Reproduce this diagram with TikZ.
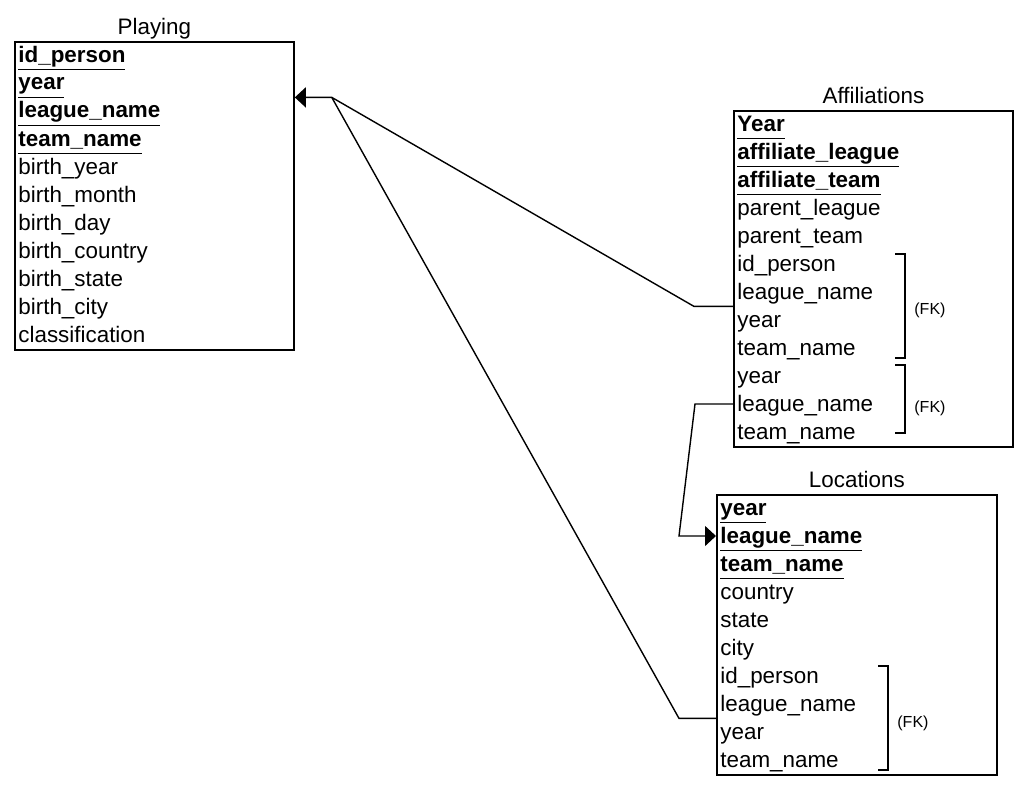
\documentclass[tikz,border=0pt]{standalone}
\usepackage{fontspec}
\setmainfont{Liberation Sans}
\usetikzlibrary{positioning, arrows.meta}
\newcommand{\pk}[1]{\underline{\textbf{#1}\vphantom{gy}}}

\begin{document}
\begin{tikzpicture}[
    x=0.5pt, y=-0.5pt,
    font=\fontsize{11.2}{13}\selectfont,
    table/.style={rectangle, draw, line width=0.9pt, anchor=north west, minimum width=139.5pt, inner sep=0},
    title/.style={inner sep=0, text height=8pt, text depth=2.4pt},
    field/.style={anchor=west, inner sep=0, minimum height=14pt, text height=9pt, text depth=2pt},
    bracket/.style={draw, line width=0.8pt},
    fk/.style={anchor=west, inner sep=0, font=\fontsize{8}{9}\selectfont},
    link/.style={draw, line width=0.7pt},
    arrow/.style={link, -{Triangle[length=5.5pt, width=10pt]}}
]
    \useasboundingbox (0,0) rectangle (1025,787);

    % Tables
    \node [table, minimum height=154pt] (playing) at (14,41) {};
    \node [table, minimum height=168pt] (affil) at (733,110) {};
    \node [table, minimum height=140pt, minimum width=140pt] (locat) at (716,494) {};

    % Titles
    \node [title, above=0.8pt of playing] (playingT) {Playing};
    \node [title, above=0.8pt of affil] (affilT) {Affiliations};
    \node [title, above=0.8pt of locat] (locatT) {Locations};

    % Fields
    \foreach \txt [count=\i from 0] in {\pk{id\_person}, \pk{year}, \pk{league\_name}, \pk{team\_name},
        birth\_year, birth\_month, birth\_day, birth\_country, birth\_state, birth\_city, classification}
        \node [field] (pl\i) at ([shift={(2pt,{-7pt-14pt*\i})}]playing.north west) {\txt};
    \foreach \txt [count=\i from 0] in {\pk{Year}, \pk{affiliate\_league}, \pk{affiliate\_team},
        parent\_league, parent\_team, id\_person, league\_name, year, team\_name, year, league\_name, team\_name}
        \node [field] (af\i) at ([shift={(2pt,{-7pt-14pt*\i})}]affil.north west) {\txt};
    \foreach \txt [count=\i from 0] in {\pk{year}, \pk{league\_name}, \pk{team\_name},
        country, state, city, id\_person, league\_name, year, team\_name}
        \node [field] (lo\i) at ([shift={(2pt,{-7pt-14pt*\i})}]locat.north west) {\txt};

    % Foreign key groups
    \draw [bracket] ([shift={(81pt,-72pt)}]affil.north west) -- ++(5pt,0) |- ++(-5pt,-52pt);
    \draw [bracket] ([shift={(81pt,-127.5pt)}]affil.north west) -- ++(5pt,0) |- ++(-5pt,-34pt);
    \draw [bracket] ([shift={(81pt,-86pt)}]locat.north west) -- ++(5pt,0) |- ++(-5pt,-52pt);
    \node [fk] (fk1) at ([shift={(90.5pt,-100pt)}]affil.north west) {(FK)};
    \node [fk] (fk2) at ([shift={(90.5pt,-149pt)}]affil.north west) {(FK)};
    \node [fk] (fk3) at ([shift={(90.5pt,-114.5pt)}]locat.north west) {(FK)};

    % Connections
    \coordinate (hub) at ([xshift=18.5pt]playing.east |- pl1.south);
    \draw [arrow] (affil.west |- af6.south) -- ++(-19.5pt,0) -- (hub) -- (playing.east |- pl1.south);
    \draw [link] (locat.west |- lo7.south) -- ++(-18.5pt,0) -- (hub);
    \draw [arrow] (affil.west |- af10) -- ++(-19pt,0) -- ([xshift=-18.5pt]locat.west |- lo1) -- (locat.west |- lo1);

\end{tikzpicture}
\end{document}
